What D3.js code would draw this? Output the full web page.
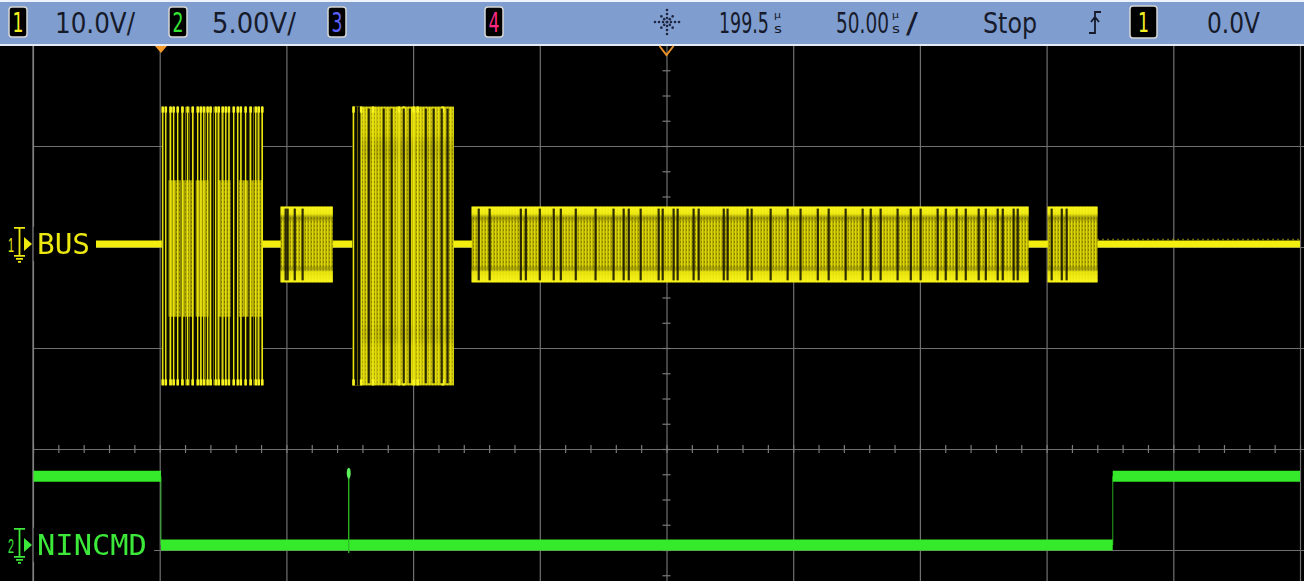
<!DOCTYPE html>
<html>
<head>
<meta charset="utf-8">
<script src="https://cdn.jsdelivr.net/npm/d3@7"></script>
<style>
  html, body { margin: 0; padding: 0; background: #000; overflow: hidden; }
  svg { display: block; }
</style>
</head>
<body>
<svg id="scope" width="1304" height="581"></svg>
<script>
// ---- Acquisition settings ----
const timeBase = 50;          // µs per division
const timeDelay = 199.5;      // µs at screen centre (trigger at t = 0)
const ch1Scale = 10;          // V/div, BUS
const ch1Offset = -20.3;      // V
const ch2Scale = 5;           // V/div, NINCMD
const ch2Offset = 4.75;       // V

// ---- Status bar labels ----
const statusCh1 = "10.0V/";
const statusCh2 = "5.00V/";
const statusDelay = "199.5";
const statusTimeBase = "50.00";
const statusRun = "Stop";
const statusTrig = "0.0V";

// ---- Channel 1 (BUS): packet bursts, µs and V ----
const burstStart = [0.3, 47.2, 75.6, 122.6, 349.9];
const burstEnd   = [40.2, 67.8, 115.6, 342.4, 369.6];
const burstHigh  = [13.6, 3.7, 13.6, 3.7, 3.7];
const burstLow   = [-14.0, -3.8, -14.0, -3.8, -3.8];

// first burst: full-swing bit edges and the intermediate-level blocks
const burstAStrokes = [0.7, 1.9, 3.8, 5.0, 6.6, 8.5, 10.5, 12.5, 14.5, 15.7, 16.9, 18.4, 19.6,
                       21.6, 22.8, 24.4, 25.6, 26.8, 28.7, 30.3, 31.5, 33.4, 35.4, 37.4, 38.6, 40.0];
const burstAMidStart = [3.0, 8.6, 13.7, 22.4, 30.7, 35.4];
const burstAMidEnd   = [7.8, 12.9, 18.8, 27.5, 34.6, 40.1];
const burstAMidHigh = 6.3;
const burstAMidLow = -7.2;

// third burst: bright full-swing edges
const burstCStrokes = [76.0, 79.0, 83.7, 93.9, 95.8, 99.7, 101.3, 111.2];

// dark gaps (idle bit times) inside the bursts, µs
const burstGaps = [
  49.2, 50.0, 52.8, 55.9,
  82.0, 87.9, 91.0, 95.8, 98.2, 104.5, 107.6, 110.8, 113.1,
  125.4, 129.7, 142.0, 144.0, 149.5, 155.0, 157.8, 163.7, 171.5, 178.6, 182.6, 184.6,
  189.3, 196.4, 198.0, 202.3, 203.9, 210.2, 212.2, 222.1, 223.6, 231.5, 233.1, 240.6,
  247.3, 252.4, 259.2, 263.5, 270.2, 276.9, 280.1, 284.0, 290.7, 295.9, 299.8, 306.5,
  309.7, 314.0, 317.6, 322.7, 325.5, 330.2, 332.2, 336.5, 338.1,
  351.5, 355.5, 357.4
];

// ---- Channel 2 (NINCMD): step levels ----
const ch2Times = [-50.5, 0.0, 0.0, 375.6, 375.6, 449.5];
const ch2Volts = [3.4, 3.4, 0.0, 0.0, 3.4, 3.4];
const glitchTime = [74.1];
const glitchPeak = [3.8];

// ---- Layout ----
const W = 1304, H = 581;
const plotLeft = 33, plotRight = 1300, plotTop = 45, divPx = 101;

const x = d3.scaleLinear()
  .domain([timeDelay - 5 * timeBase, timeDelay + 5 * timeBase])
  .range([plotLeft, plotRight]);
const yDiv = d3.scaleLinear().domain([4, -4]).range([plotTop, plotTop + 8 * divPx]);
const y1 = v => yDiv((v - ch1Offset) / ch1Scale);
const y2 = v => yDiv((v - ch2Offset) / ch2Scale);

const YEL = "#f2ee0a", GRN = "#36ea2a";
const BAR_FONT = "DejaVu Sans, Liberation Sans, Arial, sans-serif";

const svg = d3.select("#scope");
svg.append("rect").attr("width", W).attr("height", H).attr("fill", "#000");

// text squeezed horizontally to a given width (narrow instrument font)
function fitText(parent, tx, ty, str, width, size, family, color, anchor) {
  const t = parent.append("text").attr("x", 0).attr("y", 0)
    .attr("font-family", family).attr("font-size", size).attr("fill", color).text(str);
  const natural = t.node().getComputedTextLength() || width;
  const sx = width / natural;
  const left = anchor === "middle" ? tx - width / 2 : tx;
  t.attr("transform", `translate(${left},${ty}) scale(${sx},1)`);
  return t;
}

const defs = svg.append("defs");
defs.append("clipPath").attr("id", "plotClip")
  .append("rect").attr("x", plotLeft).attr("y", plotTop + 1)
  .attr("width", W - plotLeft).attr("height", H - plotTop);

// dense toggling texture
const dense = defs.append("pattern").attr("id", "texDense")
  .attr("patternUnits", "userSpaceOnUse").attr("width", 3).attr("height", 4);
dense.append("rect").attr("width", 3).attr("height", 4).attr("fill", "#bab200");
dense.append("rect").attr("x", 0).attr("width", 1).attr("height", 4).attr("fill", "#dcd60c");
dense.append("rect").attr("x", 2).attr("y", 1).attr("width", 1).attr("height", 2).attr("fill", "#8a8400");

const sparse = defs.append("pattern").attr("id", "texSparse")
  .attr("patternUnits", "userSpaceOnUse").attr("width", 4).attr("height", 3);
sparse.append("rect").attr("width", 4).attr("height", 3).attr("fill", "#0a0900");
sparse.append("rect").attr("x", 1).attr("width", 1).attr("height", 3).attr("fill", "#6e6900");

const grad = defs.append("linearGradient").attr("id", "edgeGlow")
  .attr("x1", 0).attr("y1", 0).attr("x2", 0).attr("y2", 1);
[[0, "#fbf61c", 0.95], [0.1, "#f2ec12", 0.9], [0.2, "#000", 0], [0.78, "#000", 0],
 [0.86, "#eee80e", 0.85], [1, "#fbf61c", 0.95]].forEach(([o, c, a]) =>
  grad.append("stop").attr("offset", o).attr("stop-color", c).attr("stop-opacity", a));

const soft = defs.append("filter").attr("id", "soft")
  .attr("x", "-5%").attr("y", "-20%").attr("width", "110%").attr("height", "140%");
soft.append("feGaussianBlur").attr("stdDeviation", 0.6);

// ---- Graticule ----
const grid = svg.append("g").attr("clip-path", "url(#plotClip)");
const majorT = d3.range(11).map(k => x.domain()[0] + k * timeBase);
grid.append("g")
  .attr("transform", `translate(0,${plotTop})`)
  .call(d3.axisBottom(x).tickValues(majorT).tickSize(H - plotTop).tickFormat(""))
  .call(g => g.select(".domain").remove())
  .call(g => g.selectAll("line").attr("stroke", "#707070").attr("stroke-width", 1.2));
grid.append("g")
  .attr("transform", `translate(${plotLeft},0)`)
  .call(d3.axisRight(yDiv).tickValues([3, 2, 1, 0, -1]).tickSize(W - plotLeft).tickFormat(""))
  .call(g => g.select(".domain").remove())
  .call(g => g.selectAll("line").attr("stroke", "#707070").attr("stroke-width", 1.2));

// minor ticks on the centre axes
const minorT = d3.range(0, 51).map(k => x.domain()[0] + k * timeBase / 5);
grid.append("g")
  .attr("transform", `translate(0,${yDiv(0) - 4})`)
  .call(d3.axisBottom(x).tickValues(minorT).tickSize(8).tickFormat(""))
  .call(g => g.select(".domain").remove())
  .call(g => g.selectAll("line").attr("stroke", "#7a7a7a").attr("stroke-width", 1.2));
const minorD = d3.range(-16, 17).map(k => k / 4);
grid.append("g")
  .attr("transform", `translate(${x(timeDelay) - 4},0)`)
  .call(d3.axisRight(yDiv).tickValues(minorD).tickSize(8).tickFormat(""))
  .call(g => g.select(".domain").remove())
  .call(g => g.selectAll("line").attr("stroke", "#7a7a7a").attr("stroke-width", 1.2));

// ---- Channel 1 trace ----
const tr1 = svg.append("g").attr("clip-path", "url(#plotClip)").attr("filter", "url(#soft)");
tr1.append("line")
  .attr("x1", x(x.domain()[0])).attr("x2", x(x.domain()[1]))
  .attr("y1", y1(0)).attr("y2", y1(0))
  .attr("stroke", YEL).attr("stroke-width", 7);
tr1.append("line")
  .attr("x1", x(burstEnd[4])).attr("x2", x(x.domain()[1]))
  .attr("y1", y1(0) - 4.5).attr("y2", y1(0) - 4.5)
  .attr("stroke", "#c8c200").attr("stroke-width", 1.5).attr("stroke-dasharray", "1 4");

const bursts = burstStart.map((s, i) => ({ s, e: burstEnd[i], hi: burstHigh[i], lo: burstLow[i], i }));
const bg = tr1.selectAll("g.burst").data(bursts).join("g").attr("class", "burst");
bg.append("rect")
  .attr("x", d => x(d.s)).attr("width", d => x(d.e) - x(d.s))
  .attr("y", d => y1(d.hi)).attr("height", d => y1(d.lo) - y1(d.hi))
  .attr("fill", d => d.i === 0 ? "url(#texSparse)" : "url(#texDense)");
bg.filter(d => d.i !== 0).append("rect")
  .attr("x", d => x(d.s)).attr("width", d => x(d.e) - x(d.s))
  .attr("y", d => y1(d.hi)).attr("height", d => y1(d.lo) - y1(d.hi))
  .attr("fill", "url(#edgeGlow)")
  .attr("opacity", d => d.i === 2 ? 0.35 : 1);

// intermediate-level blocks in the first burst
tr1.selectAll("rect.mid").data(burstAMidStart).join("rect").attr("class", "mid")
  .attr("x", (d) => x(d)).attr("width", (d, i) => x(burstAMidEnd[i]) - x(d))
  .attr("y", y1(burstAMidHigh)).attr("height", y1(burstAMidLow) - y1(burstAMidHigh))
  .attr("fill", "url(#texDense)").attr("opacity", 0.85);

// sparse lead-in of the third burst
tr1.append("rect")
  .attr("x", x(burstStart[2])).attr("width", x(79.0) - x(burstStart[2]))
  .attr("y", y1(burstHigh[2])).attr("height", y1(burstLow[2]) - y1(burstHigh[2]))
  .attr("fill", "url(#texSparse)");

// full-swing edges
const strokes = burstAStrokes.map(t => ({ t, hi: burstHigh[0], lo: burstLow[0] }))
  .concat(burstCStrokes.map(t => ({ t, hi: burstHigh[2], lo: burstLow[2] })));
tr1.selectAll("line.stroke").data(strokes).join("line").attr("class", "stroke")
  .attr("x1", d => x(d.t)).attr("x2", d => x(d.t))
  .attr("y1", d => y1(d.hi)).attr("y2", d => y1(d.lo))
  .attr("stroke", "#e8e410").attr("stroke-width", 1.4);
tr1.selectAll("line.capT").data(strokes).join("line").attr("class", "capT")
  .attr("x1", d => x(d.t)).attr("x2", d => x(d.t))
  .attr("y1", d => y1(d.hi)).attr("y2", d => y1(d.hi) + 6)
  .attr("stroke", "#f8f420").attr("stroke-width", 2.6);
tr1.selectAll("line.capB").data(strokes).join("line").attr("class", "capB")
  .attr("x1", d => x(d.t)).attr("x2", d => x(d.t))
  .attr("y1", d => y1(d.lo) - 6).attr("y2", d => y1(d.lo))
  .attr("stroke", "#f8f420").attr("stroke-width", 2.6);

// idle gaps
const gapOf = t => bursts.find(b => t >= b.s && t <= b.e);
tr1.selectAll("line.gap").data(burstGaps).join("line").attr("class", "gap")
  .attr("x1", d => x(d)).attr("x2", d => x(d))
  .attr("y1", d => y1(gapOf(d).hi) + 2).attr("y2", d => y1(gapOf(d).lo) - 2)
  .attr("stroke", "#100f00").attr("stroke-width", 2.2).attr("opacity", 0.85);

// ---- Channel 2 trace ----
const tr2 = svg.append("g").attr("clip-path", "url(#plotClip)").attr("filter", "url(#soft)");
const ch2Pts = ch2Times.map((t, i) => ({ t, v: ch2Volts[i] }));
const segs = d3.pairs(ch2Pts);
tr2.selectAll("line.seg").data(segs).join("line").attr("class", "seg")
  .attr("x1", d => x(d[0].t)).attr("x2", d => x(d[1].t))
  .attr("y1", d => y2(d[0].v)).attr("y2", d => y2(d[1].v))
  .attr("stroke", GRN)
  .attr("stroke-width", d => d[0].v === d[1].v ? 11 : 1.2)
  .attr("opacity", d => d[0].v === d[1].v ? 1 : 0.6);
tr2.selectAll("line.glitch").data(glitchTime).join("line").attr("class", "glitch")
  .attr("x1", d => x(d)).attr("x2", d => x(d))
  .attr("y1", (d, i) => y2(glitchPeak[i])).attr("y2", y2(0) + 8)
  .attr("stroke", "#2cc020").attr("stroke-width", 1.3);
tr2.selectAll("ellipse.glitch").data(glitchTime).join("ellipse").attr("class", "glitch")
  .attr("cx", d => x(d)).attr("cy", (d, i) => y2(glitchPeak[i]) + 5)
  .attr("rx", 2).attr("ry", 5.5).attr("fill", "#5cf05c");

// ---- Left border line ----
svg.append("line").attr("x1", plotLeft).attr("x2", plotLeft).attr("y1", plotTop).attr("y2", H)
  .attr("stroke", "#8a8a8a").attr("stroke-width", 1.2);

// ---- Channel labels and ground markers ----
function channelLabel(num, name, color, yGnd, bgW, textLen) {
  const g = svg.append("g");
  g.append("rect").attr("x", 0).attr("y", yGnd - 17).attr("width", bgW).attr("height", 34).attr("fill", "#000");
  g.append("line").attr("x1", plotLeft).attr("x2", plotLeft).attr("y1", yGnd - 17).attr("y2", yGnd + 17)
    .attr("stroke", "#8a8a8a").attr("stroke-width", 1.2);
  fitText(g, 8, yGnd + 8, num, 6, 20, "Liberation Sans, Arial, sans-serif", color);
  // ground symbol
  g.append("path")
    .attr("d", `M14,${yGnd - 16} H25 M19.5,${yGnd - 16} V${yGnd + 12} M14,${yGnd + 12} H25 M16,${yGnd + 15} H23 M18,${yGnd + 18} H21`)
    .attr("stroke", color).attr("stroke-width", 1.8).attr("fill", "none");
  g.append("path")
    .attr("d", `M24,${yGnd - 7} L32,${yGnd} L24,${yGnd + 7} Z`).attr("fill", color);
  fitText(g, 37, yGnd + 10, name, textLen, 28, "DejaVu Sans Mono, monospace", color);
}
channelLabel("1", "BUS", "#ece810", y1(0), 96, 53);
channelLabel("2", "NINCMD", "#3ce83a", y2(0), 154, 110);

// ---- Status bar ----
const bar = svg.append("g");
bar.append("rect").attr("width", W).attr("height", plotTop).attr("fill", "#7f9dcf");
bar.append("rect").attr("width", W).attr("height", 2).attr("fill", "#eef2fa");
bar.append("rect").attr("y", plotTop - 1).attr("width", W).attr("height", 2).attr("fill", "#e4eaf6");

const INK = "#161a2a";
function chanBox(bx, w, label, color) {
  bar.append("rect").attr("x", bx).attr("y", 7).attr("width", w).attr("height", 30).attr("rx", 3)
    .attr("fill", "#000").attr("stroke", "#d6d6d6").attr("stroke-width", 1.5);
  fitText(bar, bx + w / 2, 32, label, 11, 26, BAR_FONT, color, "middle");
}
const barText = (tx, ty, str, len, size) => fitText(bar, tx, ty, str, len, size, BAR_FONT, INK);
// stacked "µ over s" unit glyph
function unitText(tx) {
  barText(tx, 18, "µ", 7, 9);
  barText(tx, 33, "s", 8, 12);
}
chanBox(9, 18, "1", "#f4f020");
barText(55, 33, statusCh1, 80, 29);
chanBox(169, 18, "2", "#36e436");
barText(212, 33, statusCh2, 84, 29);
chanBox(328, 18, "3", "#5a62ff");
chanBox(485, 18, "4", "#ff2a86");

// acquisition indicator
const star = bar.append("g").attr("transform", "translate(667,22)");
d3.range(8).forEach(k => {
  const a = k * Math.PI / 4;
  [4, 8, 12].forEach((r, j) => {
    if (j === 2 && k % 2 === 1) return;
    star.append("circle").attr("cx", r * Math.cos(a)).attr("cy", r * Math.sin(a))
      .attr("r", 1.3).attr("fill", "#1e2640");
  });
});
star.append("circle").attr("r", 1.6).attr("fill", "#1e2640");

barText(719, 33, statusDelay, 50, 29);
unitText(774);
barText(836, 33, statusTimeBase, 53, 29);
unitText(892);
barText(906, 33, "/", 12, 29);
barText(983, 33, statusRun, 54, 29);
// trigger edge symbol
bar.append("path").attr("d", "M1089,33 H1095 V12 H1101 M1091,22 L1095,17 L1099,22")
  .attr("stroke", INK).attr("stroke-width", 1.8).attr("fill", "none");
bar.append("rect").attr("x", 1130).attr("y", 6).attr("width", 27).attr("height", 32).attr("rx", 3)
  .attr("fill", "#000").attr("stroke", "#d6d6d6").attr("stroke-width", 1.5);
fitText(bar, 1143.5, 32, "1", 11, 26, BAR_FONT, "#f4f020", "middle");
barText(1207, 33, statusTrig, 53, 29);

// ---- Trigger position and delay markers ----
svg.append("path")
  .attr("d", `M${x(0) - 6},${plotTop + 1} L${x(0) + 6},${plotTop + 1} L${x(0)},${plotTop + 8} Z`)
  .attr("fill", "#f39a2a");
svg.append("path")
  .attr("d", `M${x(timeDelay) - 7},${plotTop + 1} L${x(timeDelay)},${plotTop + 10} L${x(timeDelay) + 7},${plotTop + 1}`)
  .attr("stroke", "#e8902a").attr("stroke-width", 2).attr("fill", "none");
</script>
</body>
</html>
